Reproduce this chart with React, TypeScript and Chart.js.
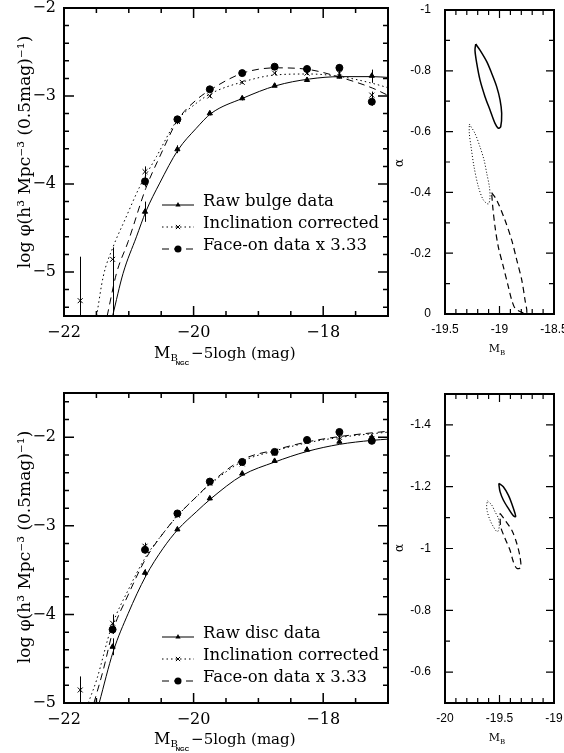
import React, { useEffect, useRef } from "react";
import { Chart, registerables } from "chart.js";

Chart.register(...registerables);

const SERIF = "'DejaVu Serif', 'Liberation Serif', serif";
const SANS = "'Liberation Sans', 'DejaVu Sans', sans-serif";

// ---------------- data: bulge luminosity function (top-left) ----------------
const BULGE_LABELS = ["Raw bulge data", "Inclination corrected", "Face-on data x 3.33"];
const BULGE_RAW_X = [-20.75, -20.25, -19.75, -19.25, -18.75, -18.25, -17.75, -17.25];
const BULGE_RAW_Y = [-4.315, -3.606, -3.197, -3.026, -2.883, -2.818, -2.78, -2.77];
const BULGE_RAW_LO = [-4.43, -3.65, -3.22, -3.05, -2.9, -2.84, -2.8, -2.85];
const BULGE_RAW_HI = [-4.2, -3.56, -3.17, -3.0, -2.86, -2.8, -2.76, -2.7];
const BULGE_INC_X = [-21.75, -21.25, -20.75, -20.25, -19.75, -19.25, -18.75, -18.25, -17.75, -17.25];
const BULGE_INC_Y = [-5.326, -4.856, -3.86, -3.29, -3.0, -2.845, -2.74, -2.74, -2.74, -2.99];
const BULGE_INC_LO = [-6.0, -6.0, -3.92, -3.32, -3.02, -2.86, -2.76, -2.76, -2.76, -3.03];
const BULGE_INC_HI = [-4.826, -4.72, -3.8, -3.26, -2.98, -2.83, -2.72, -2.72, -2.72, -2.95];
const BULGE_FACE_X = [-20.75, -20.25, -19.75, -19.25, -18.75, -18.25, -17.75, -17.25];
const BULGE_FACE_Y = [-3.97, -3.265, -2.924, -2.74, -2.667, -2.693, -2.68, -3.065];
const BULGE_FACE_LO = [-4.03, -3.29, -2.95, -2.76, -2.69, -2.71, -2.75, -3.11];
const BULGE_FACE_HI = [-3.92, -3.24, -2.9, -2.72, -2.64, -2.67, -2.64, -3.02];
const BULGE_RAW_FIT_X = [-21.25, -21.088, -20.882, -20.738, -20.523, -20.241, -19.959, -19.728, -19.242, -18.729, -18.215, -17.728, -17.24, -16.98];
const BULGE_RAW_FIT_Y = [-5.5, -5.015, -4.6, -4.315, -3.99, -3.614, -3.367, -3.197, -3.026, -2.883, -2.807, -2.78, -2.78, -2.79];
const BULGE_INC_FIT_X = [-21.497, -21.395, -21.241, -21.062, -20.831, -20.574, -20.266, -19.959, -19.728, -19.242, -18.729, -18.215, -17.728, -17.24, -16.98];
const BULGE_INC_FIT_Y = [-5.5, -5.053, -4.712, -4.41, -4.03, -3.69, -3.29, -3.083, -2.97, -2.84, -2.76, -2.75, -2.78, -2.856, -2.91];
const BULGE_FACE_FIT_X = [-21.334, -21.19, -21.01, -20.738, -20.523, -20.241, -19.959, -19.728, -19.242, -18.729, -18.215, -17.728, -17.24, -16.98];
const BULGE_FACE_FIT_Y = [-5.5, -5.015, -4.655, -4.05, -3.69, -3.27, -3.045, -2.924, -2.74, -2.68, -2.7, -2.79, -2.91, -3.0];

// ---------------- data: disc luminosity function (bottom-left) ----------------
const DISC_LABELS = ["Raw disc data", "Inclination corrected", "Face-on data x 3.33"];
const DISC_RAW_X = [-21.25, -20.75, -20.25, -19.75, -19.25, -18.75, -18.25, -17.75, -17.25];
const DISC_RAW_Y = [-4.365, -3.53, -3.04, -2.69, -2.41, -2.267, -2.14, -2.05, -2.0];
const DISC_RAW_LO = [-4.46, -3.57, -3.06, -2.71, -2.43, -2.285, -2.16, -2.07, -2.02];
const DISC_RAW_HI = [-4.27, -3.49, -3.02, -2.67, -2.39, -2.25, -2.12, -2.03, -1.98];
const DISC_INC_X = [-21.75, -21.25, -20.75, -20.25, -19.75, -19.25, -18.75, -18.25, -17.75, -17.25];
const DISC_INC_Y = [-4.853, -4.1, -3.23, -2.88, -2.52, -2.3, -2.18, -2.05, -2.0, -2.015];
const DISC_INC_LO = [-5.4, -4.21, -3.27, -2.9, -2.54, -2.32, -2.2, -2.07, -2.02, -2.035];
const DISC_INC_HI = [-4.7, -4.0, -3.19, -2.86, -2.5, -2.28, -2.16, -2.03, -1.98, -1.995];
const DISC_FACE_X = [-21.25, -20.75, -20.25, -19.75, -19.25, -18.75, -18.25, -17.75, -17.25];
const DISC_FACE_Y = [-4.17, -3.27, -2.86, -2.5, -2.278, -2.165, -2.03, -1.94, -2.04];
const DISC_FACE_LO = [-4.22, -3.31, -2.88, -2.52, -2.3, -2.185, -2.05, -1.96, -2.06];
const DISC_FACE_HI = [-4.12, -3.23, -2.84, -2.48, -2.26, -2.145, -2.01, -1.92, -2.02];
const DISC_RAW_FIT_X = [-21.457, -21.241, -21.01, -20.738, -20.472, -20.241, -19.959, -19.728, -19.25, -18.75, -18.25, -17.75, -17.25, -16.98];
const DISC_RAW_FIT_Y = [-5.0, -4.42, -3.99, -3.567, -3.255, -3.04, -2.842, -2.69, -2.43, -2.28, -2.16, -2.08, -2.035, -2.02];
const DISC_INC_FIT_X = [-21.626, -21.497, -21.266, -21.01, -20.738, -20.472, -20.241, -19.959, -19.728, -19.24, -18.73, -18.23, -17.73, -16.98];
const DISC_INC_FIT_Y = [-5.0, -4.74, -4.14, -3.725, -3.35, -3.086, -2.88, -2.673, -2.52, -2.27, -2.15, -2.06, -2.0, -1.94];
const DISC_FACE_FIT_X = [-21.538, -21.395, -21.241, -21.01, -20.738, -20.472, -20.241, -19.959, -19.728, -19.24, -18.73, -18.23, -17.73, -16.98];
const DISC_FACE_FIT_Y = [-5.0, -4.63, -4.177, -3.78, -3.37, -3.086, -2.88, -2.673, -2.51, -2.25, -2.14, -2.05, -1.99, -1.93];

// ---------------- data: error contours (right panels) ----------------
const TR_SOLID_X = [-19.218, -19.179, -19.117, -19.072, -19.026, -18.995, -18.98, -18.989, -19.011, -19.041, -19.087, -19.133, -19.179, -19.209, -19.225];
const TR_SOLID_Y = [-0.888, -0.868, -0.83, -0.792, -0.748, -0.704, -0.66, -0.616, -0.611, -0.627, -0.671, -0.715, -0.77, -0.825, -0.868];
const TR_DOT_X = [-19.277, -19.225, -19.179, -19.142, -19.117, -19.093, -19.087, -19.102, -19.148, -19.194, -19.234, -19.261, -19.277];
const TR_DOT_Y = [-0.625, -0.594, -0.55, -0.507, -0.463, -0.419, -0.386, -0.362, -0.375, -0.419, -0.485, -0.55, -0.594];
const TR_DASH_X = [-19.072, -19.026, -18.95, -18.888, -18.842, -18.796, -18.766, -18.751, -18.812, -18.858, -18.888, -18.919, -18.965, -19.011, -19.041, -19.062];
const TR_DASH_Y = [-0.399, -0.375, -0.309, -0.243, -0.178, -0.112, -0.046, -0.002, -0.008, -0.019, -0.046, -0.09, -0.156, -0.221, -0.287, -0.353];

const BR_SOLID_X = [-19.505, -19.465, -19.419, -19.388, -19.358, -19.352, -19.373, -19.419, -19.465, -19.495, -19.505];
const BR_SOLID_Y = [-1.211, -1.2, -1.173, -1.146, -1.114, -1.103, -1.106, -1.13, -1.157, -1.184, -1.206];
const BR_DOT_X = [-19.609, -19.572, -19.541, -19.511, -19.502, -19.52, -19.557, -19.587, -19.612, -19.618];
const BR_DOT_Y = [-1.154, -1.141, -1.119, -1.098, -1.071, -1.054, -1.071, -1.092, -1.119, -1.141];
const BR_DASH_X = [-19.495, -19.45, -19.388, -19.342, -19.312, -19.306, -19.342, -19.373, -19.404, -19.45, -19.489];
const BR_DASH_Y = [-1.114, -1.092, -1.06, -1.017, -0.973, -0.939, -0.936, -0.957, -0.995, -1.033, -1.071];

// ---------------- ticks ----------------
const MAG_X_TICKS = [-22, -20, -18];
const LUM_Y_TICKS = [-5, -4, -3, -2];
const TR_X_TICKS = [-19.5, -19, -18.5];
const TR_Y_TICKS = [-1, -0.8, -0.6, -0.4, -0.2, 0];
const BR_X_TICKS = [-20, -19.5, -19];
const BR_Y_TICKS = [-1.4, -1.2, -1, -0.8, -0.6];

const Y_TITLE = "log \u03C6(h\u00B3 Mpc\u207B\u00B3 (0.5mag)\u207B\u00B9)";

type XY = { x: number; y: number };
const pts = (xs: number[], ys: number[]): XY[] => xs.map((x, i) => ({ x, y: ys[i] }));
const loop = (xs: number[], ys: number[]): XY[] => {
  const p = pts(xs, ys);
  p.push({ x: p[0].x, y: p[0].y });
  return p;
};
const fmtMinus = (v: number) => (v < 0 ? "\u2212" + Math.abs(v) : String(v));

function drawMarker(ctx: CanvasRenderingContext2D, style: string, x: number, y: number, r: number) {
  ctx.beginPath();
  if (style === "circle") {
    ctx.arc(x, y, r, 0, Math.PI * 2);
    ctx.fill();
  } else if (style === "triangle") {
    ctx.moveTo(x, y - r);
    ctx.lineTo(x + r * 0.87, y + r * 0.5);
    ctx.lineTo(x - r * 0.87, y + r * 0.5);
    ctx.closePath();
    ctx.fill();
  } else {
    ctx.moveTo(x - r * 0.7, y - r * 0.7);
    ctx.lineTo(x + r * 0.7, y + r * 0.7);
    ctx.moveTo(x - r * 0.7, y + r * 0.7);
    ctx.lineTo(x + r * 0.7, y - r * 0.7);
    ctx.stroke();
  }
}

const frameTicks = {
  id: "frameTicks",
  afterDatasetsDraw(chart: any, _a: any, o: any) {
    const { ctx, chartArea: a } = chart;
    const sx = chart.scales.x;
    const sy = chart.scales.y;
    const vals = (min: number, max: number, step: number) => {
      const out: number[] = [];
      const k0 = Math.ceil(min / step - 1e-6);
      const k1 = Math.floor(max / step + 1e-6);
      for (let k = k0; k <= k1; k++) out.push(+(k * step).toFixed(6));
      return out;
    };
    const isMajor = (v: number, step: number) => Math.abs(v / step - Math.round(v / step)) < 1e-6;
    ctx.save();
    ctx.strokeStyle = "#000";
    ctx.lineWidth = o.tickWidth;
    ctx.beginPath();
    for (const v of vals(sx.min, sx.max, o.xMinor)) {
      const px = sx.getPixelForValue(v);
      if (px <= a.left + 1 || px >= a.right - 1) continue;
      const len = isMajor(v, o.xMajor) ? o.majorLen : o.minorLen;
      ctx.moveTo(px, a.bottom);
      ctx.lineTo(px, a.bottom - len);
      ctx.moveTo(px, a.top);
      ctx.lineTo(px, a.top + len);
    }
    for (const v of vals(sy.min, sy.max, o.yMinor)) {
      const py = sy.getPixelForValue(v);
      if (py <= a.top + 1 || py >= a.bottom - 1) continue;
      const len = isMajor(v, o.yMajor) ? o.majorLen : o.minorLen;
      ctx.moveTo(a.left, py);
      ctx.lineTo(a.left + len, py);
      ctx.moveTo(a.right, py);
      ctx.lineTo(a.right - len, py);
    }
    ctx.stroke();
    ctx.lineWidth = o.frameWidth;
    ctx.strokeRect(a.left, a.top, a.right - a.left, a.bottom - a.top);
    ctx.restore();
  },
};

const errorBars = {
  id: "errorBars",
  afterDatasetsDraw(chart: any) {
    const { ctx, chartArea: a } = chart;
    const sx = chart.scales.x;
    const sy = chart.scales.y;
    ctx.save();
    ctx.beginPath();
    ctx.rect(a.left, a.top, a.right - a.left, a.bottom - a.top);
    ctx.clip();
    ctx.strokeStyle = "#000";
    ctx.lineWidth = 1;
    ctx.beginPath();
    chart.data.datasets.forEach((ds: any) => {
      if (!ds.errLo) return;
      ds.data.forEach((p: XY, i: number) => {
        const lo = ds.errLo[i];
        const hi = ds.errHi[i];
        if (lo == null || hi == null) return;
        const x = Math.round(sx.getPixelForValue(p.x)) + 0.5;
        ctx.moveTo(x, sy.getPixelForValue(lo));
        ctx.lineTo(x, sy.getPixelForValue(hi));
      });
    });
    ctx.stroke();
    ctx.restore();
  },
};

const keyPlugin = {
  id: "key",
  afterDraw(chart: any, _a: any, o: any) {
    if (!o || !o.entries) return;
    const ctx = chart.ctx;
    ctx.save();
    ctx.strokeStyle = "#000";
    ctx.fillStyle = "#000";
    o.entries.forEach((e: any, i: number) => {
      const y = o.y0 + i * o.dy;
      ctx.lineWidth = 1;
      ctx.setLineDash(e.dash);
      ctx.beginPath();
      ctx.moveTo(o.x0, y);
      ctx.lineTo(o.x1, y);
      ctx.stroke();
      ctx.setLineDash([]);
      drawMarker(ctx, e.marker, (o.x0 + o.x1) / 2, y, e.radius);
      ctx.font = o.font;
      ctx.textAlign = "left";
      ctx.textBaseline = "middle";
      ctx.fillText(e.text, o.textX, y - 3);
    });
    ctx.restore();
  },
};

const titles = {
  id: "titles",
  afterDraw(chart: any, _a: any, o: any) {
    const ctx = chart.ctx;
    ctx.save();
    ctx.fillStyle = "#000";
    if (o.kind === "lum") {
      ctx.save();
      ctx.translate(o.yx, o.yy);
      ctx.rotate(-Math.PI / 2);
      ctx.font = `17px ${SERIF}`;
      ctx.textAlign = "center";
      ctx.textBaseline = "middle";
      ctx.fillText(o.yText, 0, 0);
      ctx.restore();
      let x = o.xx;
      const y = o.xy;
      ctx.textAlign = "left";
      ctx.textBaseline = "alphabetic";
      ctx.font = `16px ${SERIF}`;
      ctx.fillText("M", x, y);
      x += ctx.measureText("M").width;
      ctx.font = `10px ${SERIF}`;
      ctx.fillText("B", x, y + 3);
      x += ctx.measureText("B").width - 2;
      ctx.font = `bold 6px ${SANS}`;
      ctx.fillText("NGC", x, y + 7);
      x += ctx.measureText("NGC").width + 2;
      ctx.font = `15px ${SERIF}`;
      ctx.fillText("\u22125logh (mag)", x, y);
    } else {
      ctx.save();
      ctx.translate(o.ax, o.ay);
      ctx.rotate(-Math.PI / 2);
      ctx.font = `12px ${SERIF}`;
      ctx.textAlign = "center";
      ctx.textBaseline = "middle";
      ctx.fillText("\u03B1", 0, 0);
      ctx.restore();
      ctx.textAlign = "left";
      ctx.textBaseline = "alphabetic";
      ctx.font = `11px ${SERIF}`;
      const wm = ctx.measureText("M").width;
      ctx.font = `7px ${SERIF}`;
      const wb = ctx.measureText("B").width;
      const x0 = o.mx - (wm + wb) / 2;
      ctx.font = `11px ${SERIF}`;
      ctx.fillText("M", x0, o.my);
      ctx.font = `7px ${SERIF}`;
      ctx.fillText("B", x0 + wm, o.my + 3);
    }
    ctx.restore();
  },
};

function curve(xs: number[], ys: number[], dash: number[]) {
  return {
    data: pts(xs, ys),
    showLine: true,
    pointRadius: 0,
    borderColor: "#000",
    borderWidth: 1,
    borderDash: dash,
    cubicInterpolationMode: "monotone",
  };
}

function markers(xs: number[], ys: number[], style: string, r: number, lo: number[], hi: number[]) {
  return {
    data: pts(xs, ys),
    showLine: false,
    pointStyle: style,
    pointRadius: r,
    pointBackgroundColor: "#000",
    pointBorderColor: "#000",
    pointBorderWidth: 1,
    errLo: lo,
    errHi: hi,
  };
}

function contour(xs: number[], ys: number[], dash: number[], w: number) {
  return {
    data: loop(xs, ys),
    showLine: true,
    pointRadius: 0,
    borderColor: "#000",
    borderWidth: w,
    borderDash: dash,
    tension: 0.3,
  };
}

function fixedTicks(values: number[]) {
  return (scale: any) => {
    scale.ticks = values.map((v) => ({ value: v }));
  };
}

function lumConfig(p: any) {
  return {
    type: "scatter",
    data: {
      datasets: [
        curve(p.rawFitX, p.rawFitY, []),
        curve(p.incFitX, p.incFitY, [1.5, 3]),
        curve(p.faceFitX, p.faceFitY, [7, 5]),
        markers(p.rawX, p.rawY, "triangle", 3, p.rawLo, p.rawHi),
        markers(p.incX, p.incY, "crossRot", 3.5, p.incLo, p.incHi),
        markers(p.faceX, p.faceY, "circle", 3.5, p.faceLo, p.faceHi),
      ],
    },
    options: {
      responsive: false,
      animation: false,
      devicePixelRatio: 1,
      events: [],
      layout: { padding: { left: 0, top: p.padTop, right: p.padRight, bottom: 0 } },
      plugins: {
        legend: { display: false },
        tooltip: { enabled: false },
        frameTicks: { xMajor: 2, xMinor: 0.5, yMajor: 1, yMinor: 0.2, majorLen: 10, minorLen: 5, tickWidth: 1.5, frameWidth: 2 },
        key: {
          entries: [
            { text: p.labels[0], dash: [], marker: "triangle", radius: 3 },
            { text: p.labels[1], dash: [1.5, 3], marker: "crossRot", radius: 3 },
            { text: p.labels[2], dash: [7, 5], marker: "circle", radius: 3.5 },
          ],
          x0: 162,
          x1: 194,
          textX: 203,
          y0: p.keyY,
          dy: 22,
          font: `16.5px ${SERIF}`,
        },
        titles: { kind: "lum", yText: Y_TITLE, yx: 26, yy: p.titleYY, xx: 154, xy: p.titleXY },
      },
      scales: {
        x: {
          type: "linear",
          min: -22,
          max: -17,
          grid: { display: false, drawTicks: false },
          border: { display: false },
          ticks: { color: "#000", font: { family: SERIF, size: 16 }, padding: 7, autoSkip: false, maxRotation: 0, minRotation: 0, callback: (v: number) => fmtMinus(v) },
          afterBuildTicks: fixedTicks(MAG_X_TICKS),
          afterFit: (s: any) => {
            s.height = p.xAxisH;
            s.paddingLeft = 0;
            s.paddingRight = 0;
          },
        },
        y: {
          type: "linear",
          min: p.yMin,
          max: p.yMax,
          grid: { display: false, drawTicks: false },
          border: { display: false },
          ticks: { color: "#000", font: { family: SERIF, size: 16 }, padding: 8, autoSkip: false, callback: (v: number) => fmtMinus(v) },
          afterBuildTicks: fixedTicks(LUM_Y_TICKS),
          afterFit: (s: any) => {
            s.width = 64;
            s.paddingTop = 0;
            s.paddingBottom = 0;
          },
        },
      },
    },
    plugins: [frameTicks, errorBars, keyPlugin, titles],
  };
}

function contourConfig(p: any) {
  return {
    type: "scatter",
    data: {
      datasets: [
        contour(p.solidX, p.solidY, [], 1.5),
        contour(p.dotX, p.dotY, [1, 2], 1),
        contour(p.dashX, p.dashY, [6, 4], 1.2),
      ],
    },
    options: {
      responsive: false,
      animation: false,
      devicePixelRatio: 1,
      events: [],
      layout: { padding: { left: 0, top: p.padTop, right: 10, bottom: 0 } },
      plugins: {
        legend: { display: false },
        tooltip: { enabled: false },
        frameTicks: { xMajor: 0.5, xMinor: 0.1, yMajor: 0.2, yMinor: 0.1, majorLen: 8, minorLen: 5, tickWidth: 1.2, frameWidth: 2 },
        titles: { kind: "contour", ax: 20, ay: p.alphaY, mx: 117, my: p.mbY },
      },
      scales: {
        x: {
          type: "linear",
          min: p.xMin,
          max: p.xMax,
          grid: { display: false, drawTicks: false },
          border: { display: false },
          ticks: { color: "#000", font: { family: SANS, size: 12 }, padding: 8, autoSkip: false, maxRotation: 0, minRotation: 0, callback: (v: number) => String(v) },
          afterBuildTicks: fixedTicks(p.xTicks),
          afterFit: (s: any) => {
            s.height = p.xAxisH;
            s.paddingLeft = 0;
            s.paddingRight = 0;
          },
        },
        y: {
          type: "linear",
          min: p.yMin,
          max: p.yMax,
          reverse: true,
          grid: { display: false, drawTicks: false },
          border: { display: false },
          ticks: { color: "#000", font: { family: SANS, size: 12 }, padding: 14, autoSkip: false, callback: (v: number) => String(v) },
          afterBuildTicks: fixedTicks(p.yTicks),
          afterFit: (s: any) => {
            s.width = 65;
            s.paddingTop = 0;
            s.paddingBottom = 0;
          },
        },
      },
    },
    plugins: [frameTicks, titles],
  };
}

function ChartBox({ make, left, top, width, height }: { make: () => any; left: number; top: number; width: number; height: number }) {
  const ref = useRef<HTMLCanvasElement | null>(null);
  useEffect(() => {
    if (!ref.current) return;
    const chart = new Chart(ref.current, make());
    return () => chart.destroy();
  }, []);
  return (
    <canvas
      ref={ref}
      width={width}
      height={height}
      style={{ position: "absolute", left, top, width, height }}
    />
  );
}

export default function App() {
  const bulge = () =>
    lumConfig({
      labels: BULGE_LABELS,
      rawX: BULGE_RAW_X, rawY: BULGE_RAW_Y, rawLo: BULGE_RAW_LO, rawHi: BULGE_RAW_HI,
      incX: BULGE_INC_X, incY: BULGE_INC_Y, incLo: BULGE_INC_LO, incHi: BULGE_INC_HI,
      faceX: BULGE_FACE_X, faceY: BULGE_FACE_Y, faceLo: BULGE_FACE_LO, faceHi: BULGE_FACE_HI,
      rawFitX: BULGE_RAW_FIT_X, rawFitY: BULGE_RAW_FIT_Y,
      incFitX: BULGE_INC_FIT_X, incFitY: BULGE_INC_FIT_Y,
      faceFitX: BULGE_FACE_FIT_X, faceFitY: BULGE_FACE_FIT_Y,
      yMin: -5.5, yMax: -2,
      padTop: 8, padRight: 12, xAxisH: 49,
      keyY: 205, titleYY: 152, titleXY: 358,
    });
  const disc = () =>
    lumConfig({
      labels: DISC_LABELS,
      rawX: DISC_RAW_X, rawY: DISC_RAW_Y, rawLo: DISC_RAW_LO, rawHi: DISC_RAW_HI,
      incX: DISC_INC_X, incY: DISC_INC_Y, incLo: DISC_INC_LO, incHi: DISC_INC_HI,
      faceX: DISC_FACE_X, faceY: DISC_FACE_Y, faceLo: DISC_FACE_LO, faceHi: DISC_FACE_HI,
      rawFitX: DISC_RAW_FIT_X, rawFitY: DISC_RAW_FIT_Y,
      incFitX: DISC_INC_FIT_X, incFitY: DISC_INC_FIT_Y,
      faceFitX: DISC_FACE_FIT_X, faceFitY: DISC_FACE_FIT_Y,
      yMin: -5, yMax: -1.5,
      padTop: 13, padRight: 12, xAxisH: 50,
      keyY: 257, titleYY: 167, titleXY: 364,
    });
  const topRight = () =>
    contourConfig({
      solidX: TR_SOLID_X, solidY: TR_SOLID_Y, dotX: TR_DOT_X, dotY: TR_DOT_Y, dashX: TR_DASH_X, dashY: TR_DASH_Y,
      xMin: -19.5, xMax: -18.5, yMin: -1, yMax: 0, xTicks: TR_X_TICKS, yTicks: TR_Y_TICKS,
      padTop: 10, xAxisH: 46, alphaY: 163, mbY: 352,
    });
  const bottomRight = () =>
    contourConfig({
      solidX: BR_SOLID_X, solidY: BR_SOLID_Y, dotX: BR_DOT_X, dotY: BR_DOT_Y, dashX: BR_DASH_X, dashY: BR_DASH_Y,
      xMin: -20, xMax: -19, yMin: -1.5, yMax: -0.5, xTicks: BR_X_TICKS, yTicks: BR_Y_TICKS,
      padTop: 14, xAxisH: 50, alphaY: 168, mbY: 361,
    });
  return (
    <div style={{ position: "absolute", left: 0, top: 0, width: 564, height: 753, background: "#fff", overflow: "hidden" }}>
      <ChartBox make={bulge} left={0} top={0} width={400} height={365} />
      <ChartBox make={disc} left={0} top={380} width={400} height={373} />
      <ChartBox make={topRight} left={380} top={0} width={184} height={360} />
      <ChartBox make={bottomRight} left={380} top={380} width={184} height={373} />
    </div>
  );
}
